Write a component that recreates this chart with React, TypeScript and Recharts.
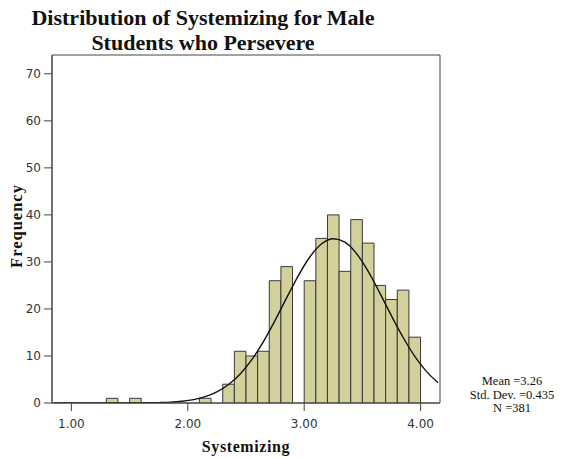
import { Bar, ComposedChart, Line, ReferenceArea, XAxis, YAxis } from "recharts";

// Bin midpoints (bin width 0.1)
const binMids = [
  0.85, 0.95, 1.05, 1.15, 1.25, 1.35, 1.45, 1.55, 1.65, 1.75, 1.85, 1.95,
  2.05, 2.15, 2.25, 2.35, 2.45, 2.55, 2.65, 2.75, 2.85, 2.95, 3.05, 3.15,
  3.25, 3.35, 3.45, 3.55, 3.65, 3.75, 3.85, 3.95, 4.05, 4.15,
];

// Count of students in each bin
const counts = [
  0, 0, 0, 0, 0, 1, 0, 1, 0, 0, 0, 0,
  0, 1, 0, 4, 11, 10, 11, 26, 29, 0, 26, 35,
  40, 28, 39, 34, 25, 22, 24, 14, 0, 0,
];

// Fitted normal curve height at each midpoint
const normalFit = [
  0, 0, 0, 0, 0, 0, 0.01, 0.02, 0.04, 0.09, 0.18, 0.38,
  0.73, 1.35, 2.36, 3.92, 6.17, 9.22, 13.07, 17.57, 22.4, 27.1, 31.1, 33.85,
  34.93, 34.2, 31.76, 27.98, 23.37, 18.53, 13.93, 9.93, 6.72, 4.31,
];

const xTicks = [1, 2, 3, 4];
const yTicks = [0, 10, 20, 30, 40, 50, 60, 70];
const xDomain: [number, number] = [0.8333, 4.1667];
const yMax = 74;

const titleLines = ["Distribution of Systemizing for Male", "Students who Persevere"];
const statLines = ["Mean =3.26", "Std. Dev. =0.435", "N =381"];

const chartData = binMids.map((x, i) => ({ x, count: counts[i], fit: normalFit[i] }));

const SERIF = '"Liberation Serif", "Times New Roman", serif';
const tickStyle = { fontSize: 12, fill: "#333", fontFamily: '"DejaVu Sans", sans-serif' };

export default function App() {
  return (
    <div style={{ position: "absolute", left: 0, top: 0, width: 566, height: 458, background: "#fff" }}>
      <ComposedChart
        width={566}
        height={458}
        data={chartData}
        margin={{ top: 55, right: 126, bottom: 10, left: 0 }}
        barCategoryGap={0}
        barGap={0}
      >
        <XAxis
          dataKey="x"
          type="number"
          domain={xDomain}
          ticks={xTicks}
          allowDataOverflow
          tickFormatter={(v: number) => v.toFixed(2)}
          tick={tickStyle}
          tickSize={8}
          tickMargin={8}
          height={45}
          stroke="#444"
        />
        <YAxis
          type="number"
          domain={[0, yMax]}
          ticks={yTicks}
          allowDataOverflow
          tick={tickStyle}
          tickSize={8}
          tickMargin={3}
          width={52}
          stroke="#444"
        />
        <ReferenceArea
          x1={xDomain[0]}
          x2={xDomain[1]}
          y1={0}
          y2={yMax}
          fill="none"
          fillOpacity={0}
          stroke="#444"
          strokeWidth={1}
          ifOverflow="visible"
        />
        <Bar
          dataKey="count"
          barSize={11.6}
          fill="#d4d09b"
          stroke="#3a3a3a"
          strokeWidth={1}
          isAnimationActive={false}
        />
        <Line
          dataKey="fit"
          type="monotone"
          stroke="#111"
          strokeWidth={1.4}
          dot={false}
          activeDot={false}
          isAnimationActive={false}
        />
      </ComposedChart>
      <svg
        width={566}
        height={458}
        style={{ position: "absolute", left: 0, top: 0, pointerEvents: "none" }}
      >
        {titleLines.map((t, i) => (
          <text
            key={t}
            x={203}
            y={25 + i * 25}
            textAnchor="middle"
            fontFamily={SERIF}
            fontWeight="bold"
            fontSize={22}
            fill="#111"
          >
            {t}
          </text>
        ))}
        <text
          x={0}
          y={0}
          transform="translate(22,226) rotate(-90)"
          textAnchor="middle"
          fontFamily={SERIF}
          fontWeight="bold"
          fontSize={16.5}
          letterSpacing={1}
          fill="#111"
        >
          Frequency
        </text>
        <text
          x={246}
          y={452}
          textAnchor="middle"
          fontFamily={SERIF}
          fontWeight="bold"
          fontSize={16}
          letterSpacing={0.6}
          fill="#111"
        >
          Systemizing
        </text>
        {statLines.map((t, i) => (
          <text
            key={t}
            x={512}
            y={385 + i * 13.5}
            textAnchor="middle"
            fontFamily={SERIF}
            fontSize={12.5}
            fill="#111"
          >
            {t}
          </text>
        ))}
      </svg>
    </div>
  );
}
